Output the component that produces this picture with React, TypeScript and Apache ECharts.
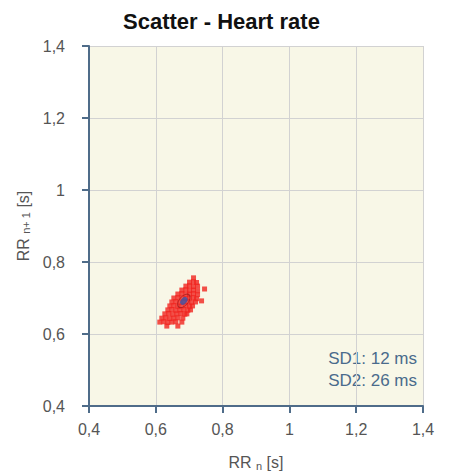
import React, { useEffect, useRef } from "react";
import * as echarts from "echarts";

const TITLE = "Scatter - Heart rate";
const AXIS_MIN = 0.4;
const AXIS_MAX = 1.4;
const AXIS_STEP = 0.2;
const SD_LINES = ["SD1: 12 ms", "SD2: 26 ms"];

// RR(n), RR(n+1) pairs in seconds
const rrPoints: [number, number][] = [
  [0.713, 0.756],
  [0.701, 0.744], [0.713, 0.745], [0.722, 0.743],
  [0.69, 0.733], [0.701, 0.734], [0.713, 0.732], [0.725, 0.733],
  [0.746, 0.725],
  [0.678, 0.722], [0.69, 0.723], [0.701, 0.721], [0.713, 0.722], [0.725, 0.72],
  [0.666, 0.711], [0.678, 0.712], [0.69, 0.71], [0.701, 0.711], [0.713, 0.712], [0.725, 0.709],
  [0.654, 0.7], [0.666, 0.701], [0.678, 0.7], [0.69, 0.699], [0.701, 0.7], [0.713, 0.701], [0.722, 0.698],
  [0.737, 0.692],
  [0.648, 0.689], [0.66, 0.69], [0.672, 0.688], [0.684, 0.689], [0.696, 0.69], [0.707, 0.688], [0.719, 0.689],
  [0.642, 0.678], [0.654, 0.679], [0.666, 0.677], [0.678, 0.678], [0.69, 0.679], [0.701, 0.677], [0.71, 0.678],
  [0.636, 0.667], [0.648, 0.668], [0.66, 0.666], [0.672, 0.667], [0.684, 0.668], [0.696, 0.666], [0.704, 0.667],
  [0.627, 0.656], [0.639, 0.657], [0.651, 0.655], [0.663, 0.656], [0.675, 0.657], [0.687, 0.655], [0.693, 0.656],
  [0.618, 0.644], [0.63, 0.645], [0.642, 0.643], [0.654, 0.644], [0.666, 0.645], [0.681, 0.644],
  [0.612, 0.633], [0.624, 0.634], [0.636, 0.632], [0.648, 0.633], [0.66, 0.634], [0.678, 0.633],
  [0.633, 0.622], [0.666, 0.622],
];

// Poincaré ellipse centre (mean RR)
const ellipseCenter: [number, number] = [0.684, 0.692];

const fmt = (v: number) => String(Number(v.toFixed(1))).replace(".", ",");

const ELLIPSE = "path://M0,-1 A1,1 0 1,1 0,1 A1,1 0 1,1 0,-1 Z";
const FONT = "Liberation Sans, Arial, sans-serif";

export default function App() {
  const ref = useRef<HTMLDivElement>(null);
  useEffect(() => {
    document.body.style.margin = "0";
    if (!ref.current) return;
    const chart = echarts.init(ref.current, null, { renderer: "svg" });
    const axisColor = "#4f6c89";
    const labelStyle = {
      color: "#555555",
      fontSize: 16,
      fontFamily: FONT,
      formatter: fmt,
    };
    const nameRich = {
      a: { fontSize: 16, color: "#555555", fontFamily: FONT },
      s: { fontSize: 11, color: "#555555", fontFamily: FONT, verticalAlign: "bottom", padding: [6, 0, 0, 0] },
    };
    const common = {
      type: "value" as const,
      min: AXIS_MIN,
      max: AXIS_MAX,
      interval: AXIS_STEP,
      axisLine: { show: true, onZero: false, lineStyle: { color: axisColor, width: 2 } },
      axisTick: { show: true, inside: false, length: 7, lineStyle: { color: axisColor, width: 2 } },
      splitLine: { show: true, lineStyle: { color: "#d2d2d2", width: 1 } },
    };
    chart.setOption({
      animation: false,
      title: {
        text: TITLE,
        left: 118,
        top: 5,
        textStyle: { fontSize: 22, fontWeight: "bold", color: "#111", fontFamily: FONT },
      },
      grid: {
        left: 89,
        right: 30,
        top: 46,
        bottom: 68,
        show: true,
        backgroundColor: "#f8f7e7",
        borderWidth: 0,
        containLabel: false,
        outerBoundsMode: "none",
      },
      xAxis: {
        ...common,
        axisLabel: { ...labelStyle, margin: 15 },
        name: "{a|RR }{s|n}{a| [s]}",
        nameLocation: "middle",
        nameGap: 48,
        nameTextStyle: { rich: nameRich },
      },
      yAxis: {
        ...common,
        axisLabel: { ...labelStyle, margin: 24 },
        name: "{a|RR }{s|n+ 1}{a| [s]}",
        nameLocation: "middle",
        nameGap: 50,
        nameRotate: 90,
        nameTextStyle: { rich: nameRich },
      },
      graphic: [
        {
          type: "text",
          right: 36,
          top: 347,
          style: {
            text: SD_LINES.join("\n"),
            fill: "#4a6b8c",
            fontSize: 17,
            lineHeight: 22,
            align: "right",
            fontFamily: FONT,
          },
        },
      ],
      series: [
        {
          type: "scatter",
          data: rrPoints,
          symbol: "rect",
          symbolSize: 5,
          itemStyle: { color: "#f0241f" },
          silent: true,
          z: 2,
        },
        {
          type: "scatter",
          data: [ellipseCenter],
          symbol: ELLIPSE,
          symbolSize: [16, 9],
          symbolRotate: 50,
          itemStyle: { color: "rgba(0,0,0,0)", borderColor: "#a81c1c", borderWidth: 1 },
          silent: true,
          z: 3,
        },
        {
          type: "scatter",
          data: [ellipseCenter],
          symbol: ELLIPSE,
          symbolSize: [9, 6],
          symbolRotate: 50,
          itemStyle: { color: "#3a55a8" },
          silent: true,
          z: 4,
        },
      ],
    });
    return () => chart.dispose();
  }, []);
  return <div ref={ref} style={{ width: 453, height: 474 }} />;
}
